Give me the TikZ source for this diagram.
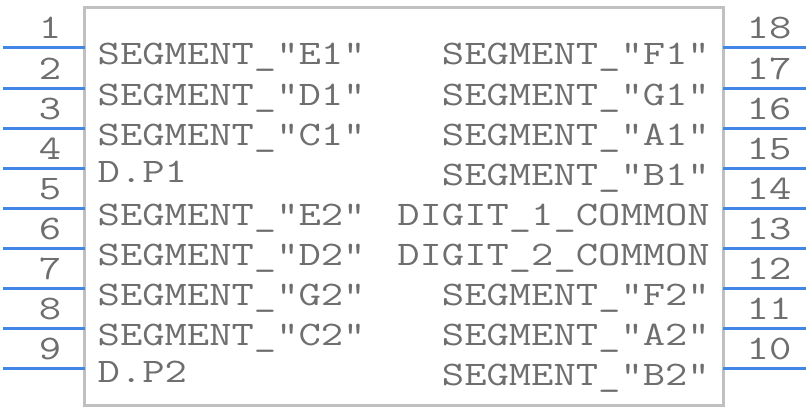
\documentclass[tikz,border=0pt]{standalone}
\usepackage{fontspec}
\usepackage{graphicx}
\usepackage{tikz}
\usetikzlibrary{calc}
\usepackage{xcolor}
\definecolor{pinblue}{RGB}{66,135,232}
\definecolor{txtgray}{RGB}{110,110,110}
\definecolor{boxgray}{RGB}{192,192,192}
\newcommand{\chipfont}{\ttfamily\fontsize{34.4}{40}\selectfont}
\newcommand{\wide}[1]{\scalebox{1.26}[1]{#1}}
\tikzset{
  pin/.style={pinblue, line width=3},
  pinnum/.style={txtgray, font=\chipfont, inner sep=0, anchor=base},
  sig/.style={txtgray, font=\chipfont, inner sep=0},
}

\begin{document}
\begin{tikzpicture}[x=1pt, y=-1pt]
            \useasboundingbox (0,0) rectangle (808,412);
            % Corpo
            \node[draw=boxgray, line width=3, minimum width=638.5pt, minimum height=397.5pt, inner sep=0, outer sep=0] (chip) at (403.75,206.75) {};
            % Pinos da esquerda
            \foreach \i in {1,...,9} {
                \coordinate (pl\i) at (3, 8+40*\i);
                \draw[pin] (pl\i) -- (pl\i -| chip.west);
                \node[pinnum] (nl\i) at (50, -1+40*\i) {\wide{\i}};
            }
            % Pinos da direita
            \foreach \i in {1,...,9} {
                \pgfmathtruncatemacro{\n}{19-\i}
                \coordinate (pr\i) at (806, 8+40*\i);
                \draw[pin] (chip.east |- pr\i) -- (pr\i);
                \node[pinnum] (nr\i) at (769, -1+40*\i) {\wide{\n}};
            }
            % Sinais
            \foreach \txt/\yb [count=\i] in {SEGMENT\_"E1"/65, SEGMENT\_"D1"/105, SEGMENT\_"C1"/145, D.P1/182, SEGMENT\_"E2"/225, SEGMENT\_"D2"/265, SEGMENT\_"G2"/305, SEGMENT\_"C2"/345, D.P2/382}
                \node[sig, anchor=base west] (sl\i) at (97.5,\yb) {\wide{\txt}};
            \foreach \txt/\yb [count=\i] in {SEGMENT\_"F1"/65, SEGMENT\_"G1"/105, SEGMENT\_"A1"/145, SEGMENT\_"B1"/185, DIGIT\_1\_COMMON/225, DIGIT\_2\_COMMON/265, SEGMENT\_"F2"/305, SEGMENT\_"A2"/345, SEGMENT\_"B2"/385}
                \node[sig, anchor=base east] (sr\i) at (710,\yb) {\wide{\txt}};
        \end{tikzpicture}
\end{document}
